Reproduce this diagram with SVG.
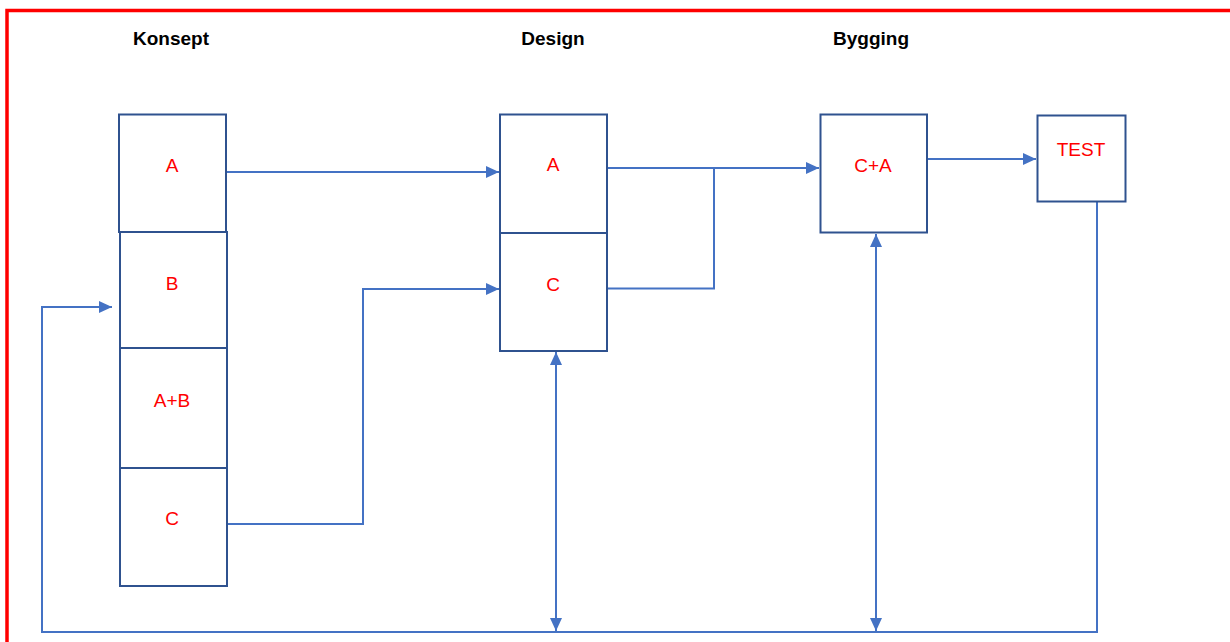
<svg xmlns="http://www.w3.org/2000/svg" width="1230" height="642" viewBox="0 0 1230 642">
  <defs>
    <style>
      .frame { fill: none; stroke: #ff0000; stroke-width: 3.5; }
      .box { fill: #ffffff; stroke: #2f528f; stroke-width: 2; }
      .lbl { font-family: "Liberation Sans", Arial, sans-serif; font-size: 19px; fill: #ff0000; text-anchor: middle; }
      .head { font-family: "Liberation Sans", Arial, sans-serif; font-size: 19px; font-weight: bold; fill: #000000; text-anchor: middle; }
      .wire { fill: none; stroke: #4472c4; stroke-width: 2; }
    </style>
    <marker id="arrow" markerUnits="userSpaceOnUse" markerWidth="14" markerHeight="12" refX="13" refY="6" orient="auto-start-reverse">
      <path d="M0,0 L13,6 L0,12 Z" fill="#4472c4"/>
    </marker>
  </defs>

  <rect width="1230" height="642" fill="#ffffff"/>

  <!-- outer frame: top and left edges -->
  <path class="frame" d="M7,642 L7,10.5 L1230,10.5"/>

  <!-- phase headings -->
  <g id="headings">
    <text class="head" x="171" y="45">Konsept</text>
    <text class="head" x="553" y="45">Design</text>
    <text class="head" x="871" y="45">Bygging</text>
  </g>

  <!-- connectors -->
  <g id="connectors">
    <path class="wire" d="M226,172 L499,172" marker-end="url(#arrow)"/>
    <path class="wire" d="M227,524 L363,524 L363,289 L499,289" marker-end="url(#arrow)"/>
    <path class="wire" d="M607,168 L819,168" marker-end="url(#arrow)"/>
    <path class="wire" d="M607,288.5 L714,288.5 L714,168"/>
    <path class="wire" d="M927,159 L1036,159" marker-end="url(#arrow)"/>
    <path class="wire" d="M1097,202 L1097,632 L42,632 L42,307 L112,307" marker-end="url(#arrow)"/>
    <path class="wire" d="M556,352 L556,631" marker-start="url(#arrow)" marker-end="url(#arrow)"/>
    <path class="wire" d="M876,234 L876,631" marker-start="url(#arrow)" marker-end="url(#arrow)"/>
  </g>

  <!-- Konsept column -->
  <g id="konsept-a">
    <rect class="box" x="119" y="114.5" width="107" height="117.5"/>
    <text class="lbl" x="172" y="172">A</text>
  </g>
  <g id="konsept-b">
    <rect class="box" x="120" y="232" width="107" height="116"/>
    <text class="lbl" x="172" y="290">B</text>
  </g>
  <g id="konsept-ab">
    <rect class="box" x="120" y="348" width="107" height="120"/>
    <text class="lbl" x="172" y="407">A+B</text>
  </g>
  <g id="konsept-c">
    <rect class="box" x="120" y="468" width="107" height="118"/>
    <text class="lbl" x="172" y="525">C</text>
  </g>

  <!-- Design column -->
  <g id="design-a">
    <rect class="box" x="500" y="114.5" width="107" height="118.5"/>
    <text class="lbl" x="553" y="171">A</text>
  </g>
  <g id="design-c">
    <rect class="box" x="500" y="233" width="107" height="118"/>
    <text class="lbl" x="553" y="291">C</text>
  </g>

  <!-- Bygging -->
  <g id="bygging-ca">
    <rect class="box" x="820.5" y="114.5" width="106.5" height="118"/>
    <text class="lbl" x="873" y="172">C+A</text>
  </g>

  <!-- Test -->
  <g id="test">
    <rect class="box" x="1037.5" y="115.5" width="88" height="86"/>
    <text class="lbl" x="1081" y="156">TEST</text>
  </g>
</svg>
